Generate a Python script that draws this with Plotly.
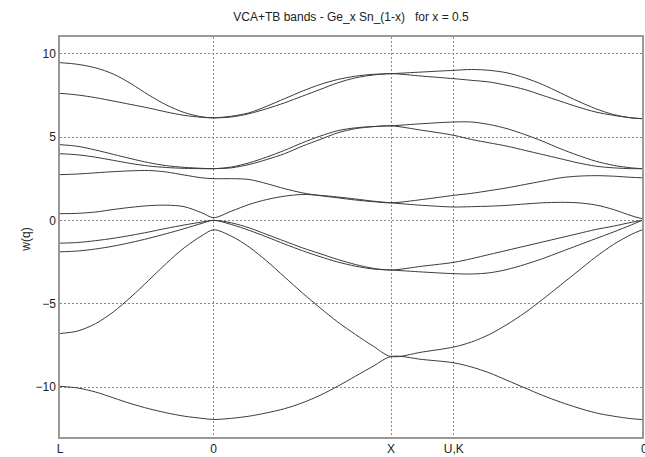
import plotly.graph_objects as go

# path coordinate (k) along L - Gamma - X - U,K - Gamma
K_PATH = [0.0, 0.1, 0.2, 0.3, 0.4, 0.5, 0.6, 0.7, 0.8, 0.866,
          0.966, 1.066, 1.166, 1.266, 1.366, 1.466, 1.566, 1.666, 1.766, 1.866,
          2.043, 2.220,
          2.320, 2.420, 2.520, 2.620, 2.720, 2.820, 2.920, 3.020, 3.120, 3.220, 3.281]

BAND_1 = [9.46, 9.36, 9.15, 8.78, 8.2, 7.52, 6.92, 6.47, 6.21, 6.15,
          6.25, 6.45, 6.85, 7.3, 7.75, 8.15, 8.45, 8.65, 8.76, 8.8,
          8.9, 9.0,
          9.05, 9.0, 8.85, 8.55, 8.15, 7.65, 7.15, 6.7, 6.35, 6.15, 6.1]
BAND_2 = [7.62, 7.52, 7.36, 7.16, 6.95, 6.74, 6.5, 6.3, 6.18, 6.15,
          6.2, 6.4, 6.7, 7.05, 7.45, 7.85, 8.25, 8.55, 8.72, 8.8,
          8.65, 8.5,
          8.4, 8.3, 8.1, 7.85, 7.5, 7.15, 6.8, 6.5, 6.3, 6.15, 6.1]
BAND_3 = [4.54, 4.44, 4.22, 3.96, 3.7, 3.46, 3.28, 3.18, 3.12, 3.1,
          3.2, 3.45, 3.8, 4.2, 4.65, 5.05, 5.38, 5.55, 5.63, 5.67,
          5.8, 5.9,
          5.9, 5.75, 5.5, 5.15, 4.75, 4.3, 3.9, 3.55, 3.3, 3.15, 3.1]
BAND_4 = [4.0, 3.93, 3.79, 3.6, 3.41, 3.26, 3.17, 3.12, 3.1, 3.1,
          3.15, 3.35, 3.65, 4.0, 4.45, 4.85, 5.25, 5.5, 5.62, 5.67,
          5.4, 5.1,
          4.85, 4.65, 4.45, 4.2, 3.95, 3.7, 3.45, 3.25, 3.15, 3.1, 3.1]
BAND_5 = [2.74, 2.78, 2.85, 2.92, 2.97, 2.99, 2.9, 2.72, 2.55, 2.5,
          2.5, 2.45, 2.2, 1.9, 1.65, 1.48, 1.35, 1.22, 1.12, 1.05,
          1.25, 1.5,
          1.62, 1.78, 1.95, 2.15, 2.35, 2.55, 2.65, 2.68, 2.65, 2.58, 2.55]
BAND_6 = [0.4, 0.42, 0.5, 0.65, 0.78, 0.88, 0.91, 0.82, 0.45, 0.16,
          0.55, 0.95, 1.25, 1.45, 1.55, 1.5, 1.4, 1.28, 1.15, 1.05,
          0.9, 0.8,
          0.82, 0.85, 0.9, 0.98, 1.05, 1.08, 1.05, 0.92, 0.65, 0.28, 0.1]
BAND_7 = [-1.37, -1.33, -1.22, -1.08, -0.9, -0.7, -0.48, -0.28, -0.1, 0.0,
          -0.15, -0.45, -0.85, -1.25, -1.65, -2.0, -2.35, -2.65, -2.88, -2.98,
          -2.75, -2.52,
          -2.3, -2.05, -1.8, -1.55, -1.3, -1.05, -0.8, -0.55, -0.35, -0.12, 0.0]
BAND_8 = [-1.89, -1.84, -1.72, -1.55, -1.33, -1.08, -0.8, -0.5, -0.18, 0.0,
          -0.25, -0.6, -1.0, -1.42, -1.82, -2.18, -2.5, -2.75, -2.92, -2.98,
          -3.1, -3.2,
          -3.22, -3.15, -2.95, -2.65, -2.3, -1.9, -1.5, -1.1, -0.7, -0.28, 0.0]
BAND_9 = [-6.79, -6.64, -6.2, -5.5, -4.6, -3.6, -2.58, -1.65, -0.92, -0.57,
          -0.95, -1.6, -2.45, -3.4, -4.35, -5.25, -6.1, -6.85, -7.55, -8.17,
          -7.9, -7.6,
          -7.3, -6.85, -6.25, -5.55, -4.75, -3.9, -3.05, -2.2, -1.45, -0.85, -0.57]
BAND_10 = [-9.96, -10.06, -10.3, -10.65, -11.0, -11.3, -11.55, -11.75, -11.88, -11.95,
           -11.88, -11.75, -11.55, -11.3, -10.95, -10.5, -9.95, -9.35, -8.75, -8.17,
           -8.35, -8.55,
           -8.8, -9.15, -9.6, -10.05, -10.5, -10.9, -11.25, -11.55, -11.75, -11.9, -11.95]

BANDS = [BAND_1, BAND_2, BAND_3, BAND_4, BAND_5, BAND_6, BAND_7, BAND_8, BAND_9, BAND_10]

TICK_K = [0.0, 0.866, 1.866, 2.220, 3.281]
TICK_LABELS = ["L", "0", "X", "U,K", "0"]
Y_TICKS = [-10, -5, 0, 5, 10]

TITLE = "VCA+TB bands - Ge_x Sn_(1-x)\u00a0\u00a0\u00a0for x = 0.5"

fig = go.Figure()
for band in BANDS:
    fig.add_trace(go.Scatter(
        x=K_PATH, y=band, mode="lines",
        line=dict(color="#3a3a3a", width=1, shape="spline", smoothing=0.9),
        showlegend=False, hoverinfo="skip"))

FONT = "Liberation Sans, Arial, sans-serif"

fig.update_layout(
    width=645, height=457,
    margin=dict(l=60, r=1, t=37, b=19),
    paper_bgcolor="white", plot_bgcolor="white",
    font=dict(family=FONT, size=12, color="#222"),
    title=dict(text=TITLE, x=0.5, xref="paper", xanchor="center",
               y=1 - 17 / 457, yref="container", yanchor="middle",
               font=dict(family=FONT, size=12, color="#222")),
    showlegend=False,
)
fig.update_xaxes(
    range=[TICK_K[0], TICK_K[-1]], tickmode="array", tickvals=TICK_K[:-1], ticktext=TICK_LABELS[:-1],
    showgrid=True, gridcolor="#888", griddash="2px,2px", gridwidth=1,
    showline=True, linecolor="#999", linewidth=1.5, mirror=True,
    ticks="", zeroline=False, tickfont=dict(size=12, color="#222"))
fig.update_yaxes(
    range=[-13, 11], tickmode="array", tickvals=Y_TICKS,
    showgrid=True, gridcolor="#888", griddash="2px,2px", gridwidth=1,
    showline=True, linecolor="#999", linewidth=1.5, mirror=True,
    ticks="", zeroline=False, tickfont=dict(size=12, color="#222"))
# last path label sits on the right edge (partly cut off, as in the source)
fig.add_annotation(text=TICK_LABELS[-1], xref="x", yref="paper",
                   x=TICK_K[-1], y=0, yanchor="top", yshift=-3, xanchor="left", xshift=-3,
                   showarrow=False, font=dict(family=FONT, size=12, color="#222"))
fig.add_annotation(text="w(q)", xref="paper", yref="paper",
                   x=(17 - 60) / 584, y=(438 - 240) / 401,
                   textangle=-90, showarrow=False,
                   font=dict(family=FONT, size=12, color="#222"))

fig.write_html("out.html")
